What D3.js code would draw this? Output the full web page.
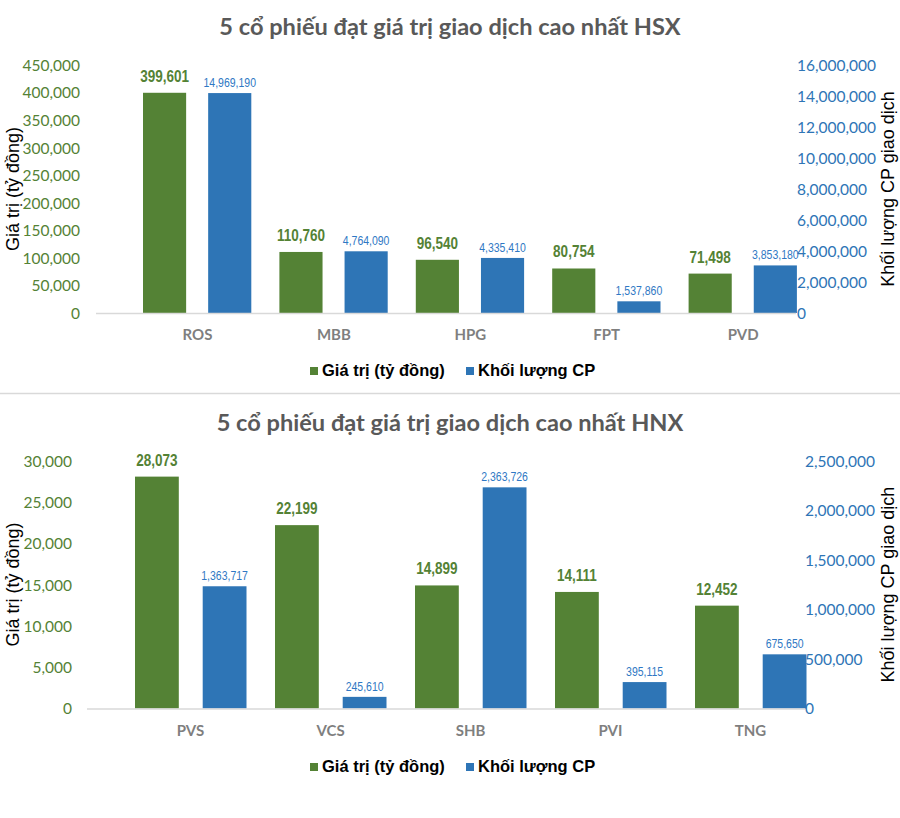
<!DOCTYPE html>
<html><head><meta charset="utf-8">
<script src="https://cdn.jsdelivr.net/npm/d3@7/dist/d3.min.js"></script>
<style>body{margin:0;background:#fff} svg{display:block}</style>
</head><body><svg id="c" width="900" height="818"></svg>
<script>
// ---------- DATA ----------
const hsxTitle = "5 cổ phiếu đạt giá trị giao dịch cao nhất HSX";
const hsxCategories = ["ROS", "MBB", "HPG", "FPT", "PVD"];
const hsxValue = [399601, 110760, 96540, 80754, 71498];          // Giá trị (tỷ đồng)
const hsxVolume = [14969190, 4764090, 4335410, 1537860, 3853180]; // Khối lượng CP
const hsxLeftTicks = [0, 50000, 100000, 150000, 200000, 250000, 300000, 350000, 400000, 450000];
const hsxRightTicks = [0, 2000000, 4000000, 6000000, 8000000, 10000000, 12000000, 14000000, 16000000];

const hnxTitle = "5 cổ phiếu đạt giá trị giao dịch cao nhất HNX";
const hnxCategories = ["PVS", "VCS", "SHB", "PVI", "TNG"];
const hnxValue = [28073, 22199, 14899, 14111, 12452];
const hnxVolume = [1363717, 245610, 2363726, 395115, 675650];
const hnxLeftTicks = [0, 5000, 10000, 15000, 20000, 25000, 30000];
const hnxRightTicks = [0, 500000, 1000000, 1500000, 2000000, 2500000];

const seriesNames = ["Giá trị (tỷ đồng)", "Khối lượng CP"];
const leftAxisTitle = "Giá trị (tỷ đồng)";
const rightAxisTitle = "Khối lượng CP giao dịch";

// ---------- STYLE / LAYOUT ----------
const GREEN = "#548235", BLUE = "#2e75b6", BLUE_TXT = "#2f78c4";
const svg = d3.select("#c");

const charts = [
  { title: hsxTitle, cats: hsxCategories, val: hsxValue, vol: hsxVolume,
    lt: hsxLeftTicks, rt: hsxRightTicks,
    titleY: 35, top: 65, bottom: 313, band: [129.3, 811.3], inner: [13.7, 122], pIn: 0.338,
    axis: [96, 796], leftX: 80, rightX: 797, volBar: [784000, 16780000],
    catY: 340, legY: 376 },
  { title: hnxTitle, cats: hnxCategories, val: hnxValue, vol: hnxVolume,
    lt: hnxLeftTicks, rt: hnxRightTicks,
    titleY: 431, top: 460.7, bottom: 708.5, band: [120.5, 820.5], inner: [14.5, 126], pIn: 0.353,
    axis: [87, 805], leftX: 72, rightX: 805, volBar: [128000, 2633000],
    catY: 736, legY: 772 }
];

const fmt = d3.format(",");
const NARROW = 0.82;

// separator
svg.append("line").attr("x1", 0).attr("x2", 900).attr("y1", 393.5).attr("y2", 393.5)
  .attr("stroke", "#d9d9d9").attr("stroke-width", 1.5);

charts.forEach(c => {
  const g = svg.append("g");
  const yL = d3.scaleLinear().domain([0, d3.max(c.lt)]).range([c.bottom, c.top]);
  const yR = d3.scaleLinear().domain([0, d3.max(c.rt)]).range([c.bottom, c.top]);
  const yB = d3.scaleLinear().domain(c.volBar).range([c.bottom, c.top]);
  const x = d3.scaleBand().domain(c.cats).range(c.band);
  const xi = d3.scaleBand().domain(["val", "vol"]).range(c.inner).paddingInner(c.pIn);

  // title
  g.append("text").attr("x", 450).attr("y", c.titleY).attr("text-anchor", "middle")
    .attr("font-family", "Lato, 'Open Sans', sans-serif").attr("font-weight", 700)
    .attr("font-size", 23.6).attr("fill", "#595959").text(c.title);

  // left axis
  const la = g.append("g").attr("transform", `translate(${c.leftX},0)`)
    .call(d3.axisLeft(yL).tickValues(c.lt).tickFormat(fmt).tickSize(0).tickPadding(0));
  la.select(".domain").remove();
  la.selectAll("text").attr("fill", GREEN).attr("font-family", "Lato, sans-serif")
    .attr("font-size", 15.5).attr("dy", "0.35em");

  // right axis
  const ra = g.append("g").attr("transform", `translate(${c.rightX},0)`)
    .call(d3.axisRight(yR).tickValues(c.rt).tickFormat(fmt).tickSize(0).tickPadding(0));
  ra.select(".domain").remove();
  ra.selectAll("text").attr("fill", BLUE).attr("font-family", "Lato, sans-serif")
    .attr("font-size", 15.5).attr("dy", "0.35em");

  // axis titles
  g.append("text").attr("transform", `translate(19,${(c.top + c.bottom) / 2}) rotate(-90)`)
    .attr("text-anchor", "middle").attr("font-family", "'Liberation Sans', Arial, sans-serif")
    .attr("font-size", 18).attr("fill", "#000").text(leftAxisTitle);
  g.append("text").attr("transform", `translate(894,${(c.top + c.bottom) / 2}) rotate(-90)`)
    .attr("text-anchor", "middle").attr("font-family", "'Liberation Sans', Arial, sans-serif")
    .attr("font-size", 18).attr("fill", "#000").text(rightAxisTitle);

  // bars
  const rows = c.cats.map((k, i) => ({ k, val: c.val[i], vol: c.vol[i] }));
  g.selectAll(".bv").data(rows).join("rect")
    .attr("x", d => x(d.k) + xi("val")).attr("width", xi.bandwidth())
    .attr("y", d => yL(d.val)).attr("height", d => yL(0) - yL(d.val)).attr("fill", GREEN);
  g.selectAll(".bq").data(rows).join("rect")
    .attr("x", d => x(d.k) + xi("vol")).attr("width", xi.bandwidth())
    .attr("y", d => yB(d.vol)).attr("height", d => yB(c.volBar[0]) - yB(d.vol)).attr("fill", BLUE);

  // baseline
  g.append("line").attr("x1", c.axis[0]).attr("x2", c.axis[1])
    .attr("y1", c.bottom + 0.5).attr("y2", c.bottom + 0.5).attr("stroke", "#d9d9d9").attr("stroke-width", 1.5);

  // data labels (condensed, like Arial Narrow)
  g.selectAll(".lv").data(rows).join("text")
    .attr("transform", d => `translate(${x(d.k) + xi("val") + xi.bandwidth() / 2},${yL(d.val) - 11}) scale(${NARROW},1)`)
    .attr("text-anchor", "middle").attr("font-family", "'Liberation Sans', Arial, sans-serif")
    .attr("font-weight", 700).attr("font-size", 16.5).attr("fill", GREEN).text(d => fmt(d.val));
  g.selectAll(".lq").data(rows).join("text")
    .attr("transform", d => `translate(${x(d.k) + xi("vol") + xi.bandwidth() / 2},${yB(d.vol) - 6}) scale(${NARROW},1)`)
    .attr("text-anchor", "middle").attr("font-family", "'Liberation Sans', Arial, sans-serif")
    .attr("font-size", 12.8).attr("fill", BLUE_TXT).text(d => fmt(d.vol));

  // category labels
  g.selectAll(".cl").data(c.cats).join("text")
    .attr("x", d => x(d) + x.bandwidth() / 2).attr("y", c.catY).attr("text-anchor", "middle")
    .attr("font-family", "Lato, sans-serif").attr("font-weight", 700).attr("font-size", 15)
    .attr("fill", "#7f7f7f").text(d => d);

  // legend
  const legX = [310, 466];
  const legC = [GREEN, BLUE];
  seriesNames.forEach((s, i) => {
    g.append("rect").attr("x", legX[i]).attr("y", c.legY - 9).attr("width", 8).attr("height", 8).attr("fill", legC[i]);
    g.append("text").attr("x", legX[i] + 12).attr("y", c.legY)
      .attr("font-family", "'Liberation Sans', Arial, sans-serif").attr("font-weight", 700)
      .attr("font-size", 16.5).attr("fill", "#000").text(s);
  });
});
</script></body></html>
